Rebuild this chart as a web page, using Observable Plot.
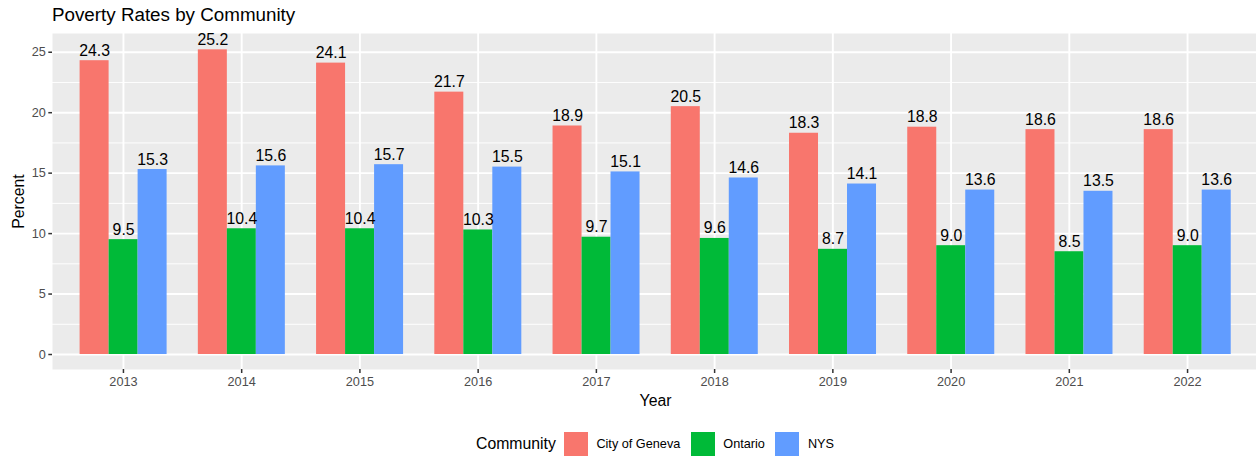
<!DOCTYPE html>
<html>
<head>
<meta charset="utf-8">
<script src="https://cdn.jsdelivr.net/npm/d3@7"></script>
<script src="https://cdn.jsdelivr.net/npm/@observablehq/plot@0.6"></script>
<style>
  html, body { margin: 0; padding: 0; background: white; overflow: hidden; }
  body { font-family: "Liberation Sans", Arial, sans-serif; width: 1256px; height: 459px; position: relative; }
  #title { font-size: 18.8px; line-height: 18.8px; height: 27px; padding-top: 6px; padding-left: 52px; color: #000; }
  #chart { position: relative; width: 1258px; height: 379px; }
  #chart svg { overflow: visible; display: block; position: absolute; left: 0; top: 0; max-width: none; }
  #chart g[aria-label="y-axis label"] text, #chart g[aria-label="x-axis label"] text { font-size: 15.8px; fill: #000; }
  #legend { position: absolute; top: 432px; left: 0; width: 1310px; height: 24px; display: flex; justify-content: center; align-items: center; }
  #legend .ttl { font-size: 15.8px; margin-right: 8px; color: #000; }
  #legend .key { width: 24px; height: 24px; margin-right: 8.5px; }
  #legend .lab { font-size: 12.7px; margin-right: 10.5px; color: #000; }
  #legend .lab:last-child { margin-right: 0; }
</style>
</head>
<body>
<div id="title">Poverty Rates by Community</div>
<div id="chart"></div>
<div id="legend"></div>
<script>
const years = ["2013","2014","2015","2016","2017","2018","2019","2020","2021","2022"];
const communities = ["City of Geneva", "Ontario", "NYS"];
const geneva = [24.3, 25.2, 24.1, 21.7, 18.9, 20.5, 18.3, 18.8, 18.6, 18.6];
const ontario = [9.5, 10.4, 10.4, 10.3, 9.7, 9.6, 8.7, 9.0, 8.5, 9.0];
const nys = [15.3, 15.6, 15.7, 15.5, 15.1, 14.6, 14.1, 13.6, 13.5, 13.6];
const colors = ["#F8766D", "#00BA38", "#619CFF"];
const majorTicks = [0, 5, 10, 15, 20, 25];
const minorTicks = [2.5, 7.5, 12.5, 17.5, 22.5];

const series = [geneva, ontario, nys];
const rows = years.flatMap((y, i) => communities.map((c, j) => ({year: y, community: c, value: series[j][i]})));

const dims = {width: 1258, height: 379, marginTop: 0, marginLeft: 52, marginRight: 0, marginBottom: 43};
const yScale = {domain: [-1.24, 26.55], axis: null};
const band = {type: "band", domain: years, paddingInner: 0.25, paddingOuter: 0.225, round: false};
const font = "'Liberation Sans', Arial, sans-serif";

// Background panel: frame, grid, axes
const back = Plot.plot({
  ...dims,
  style: {fontFamily: font, background: "transparent", overflow: "visible"},
  x: {...band, axis: null},
  y: yScale,
  marks: [
    Plot.frame({fill: "#ebebeb"}),
    Plot.ruleY(minorTicks, {stroke: "white", strokeWidth: 0.95}),
    Plot.ruleY(majorTicks, {stroke: "white", strokeWidth: 1.9}),
    Plot.gridX({stroke: "white", strokeOpacity: 1, strokeWidth: 1.9}),
    Plot.axisY(majorTicks, {tickSize: 3.7, tickPadding: 3, fontSize: 12.7, fill: "#4d4d4d", stroke: "#333", strokeWidth: 1.5, label: "Percent", labelAnchor: "center", labelArrow: "none", labelOffset: 40}),
    Plot.axisX({anchor: "bottom", tickSize: 4, tickPadding: 3, fontSize: 12.7, fill: "#4d4d4d", stroke: "#333", strokeWidth: 1.5, label: "Year", labelAnchor: "center", labelArrow: "none", labelOffset: 36})
  ]
});

// Foreground: grouped bars and value labels
const front = Plot.plot({
  ...dims,
  style: {fontFamily: font, background: "transparent", overflow: "visible"},
  fx: {...band, axis: null, label: null},
  x: {domain: communities, padding: 0, axis: null},
  y: yScale,
  color: {domain: communities, range: colors},
  marks: [
    Plot.barY(rows, {fx: "year", x: "community", y: "value", fill: "community"}),
    Plot.text(rows, {fx: "year", x: "community", y: "value", text: d => d.value.toFixed(1), lineAnchor: "bottom", dy: -5, fontSize: 15.8, fill: "black"})
  ]
});
const chartDiv = document.getElementById("chart");
chartDiv.appendChild(back);
chartDiv.appendChild(front);

const legend = document.getElementById("legend");
const t = document.createElement("span");
t.className = "ttl"; t.textContent = "Community";
legend.appendChild(t);
communities.forEach((c, i) => {
  const k = document.createElement("span");
  k.className = "key"; k.style.background = colors[i];
  legend.appendChild(k);
  const l = document.createElement("span");
  l.className = "lab"; l.textContent = c;
  legend.appendChild(l);
});
</script>
</body>
</html>
